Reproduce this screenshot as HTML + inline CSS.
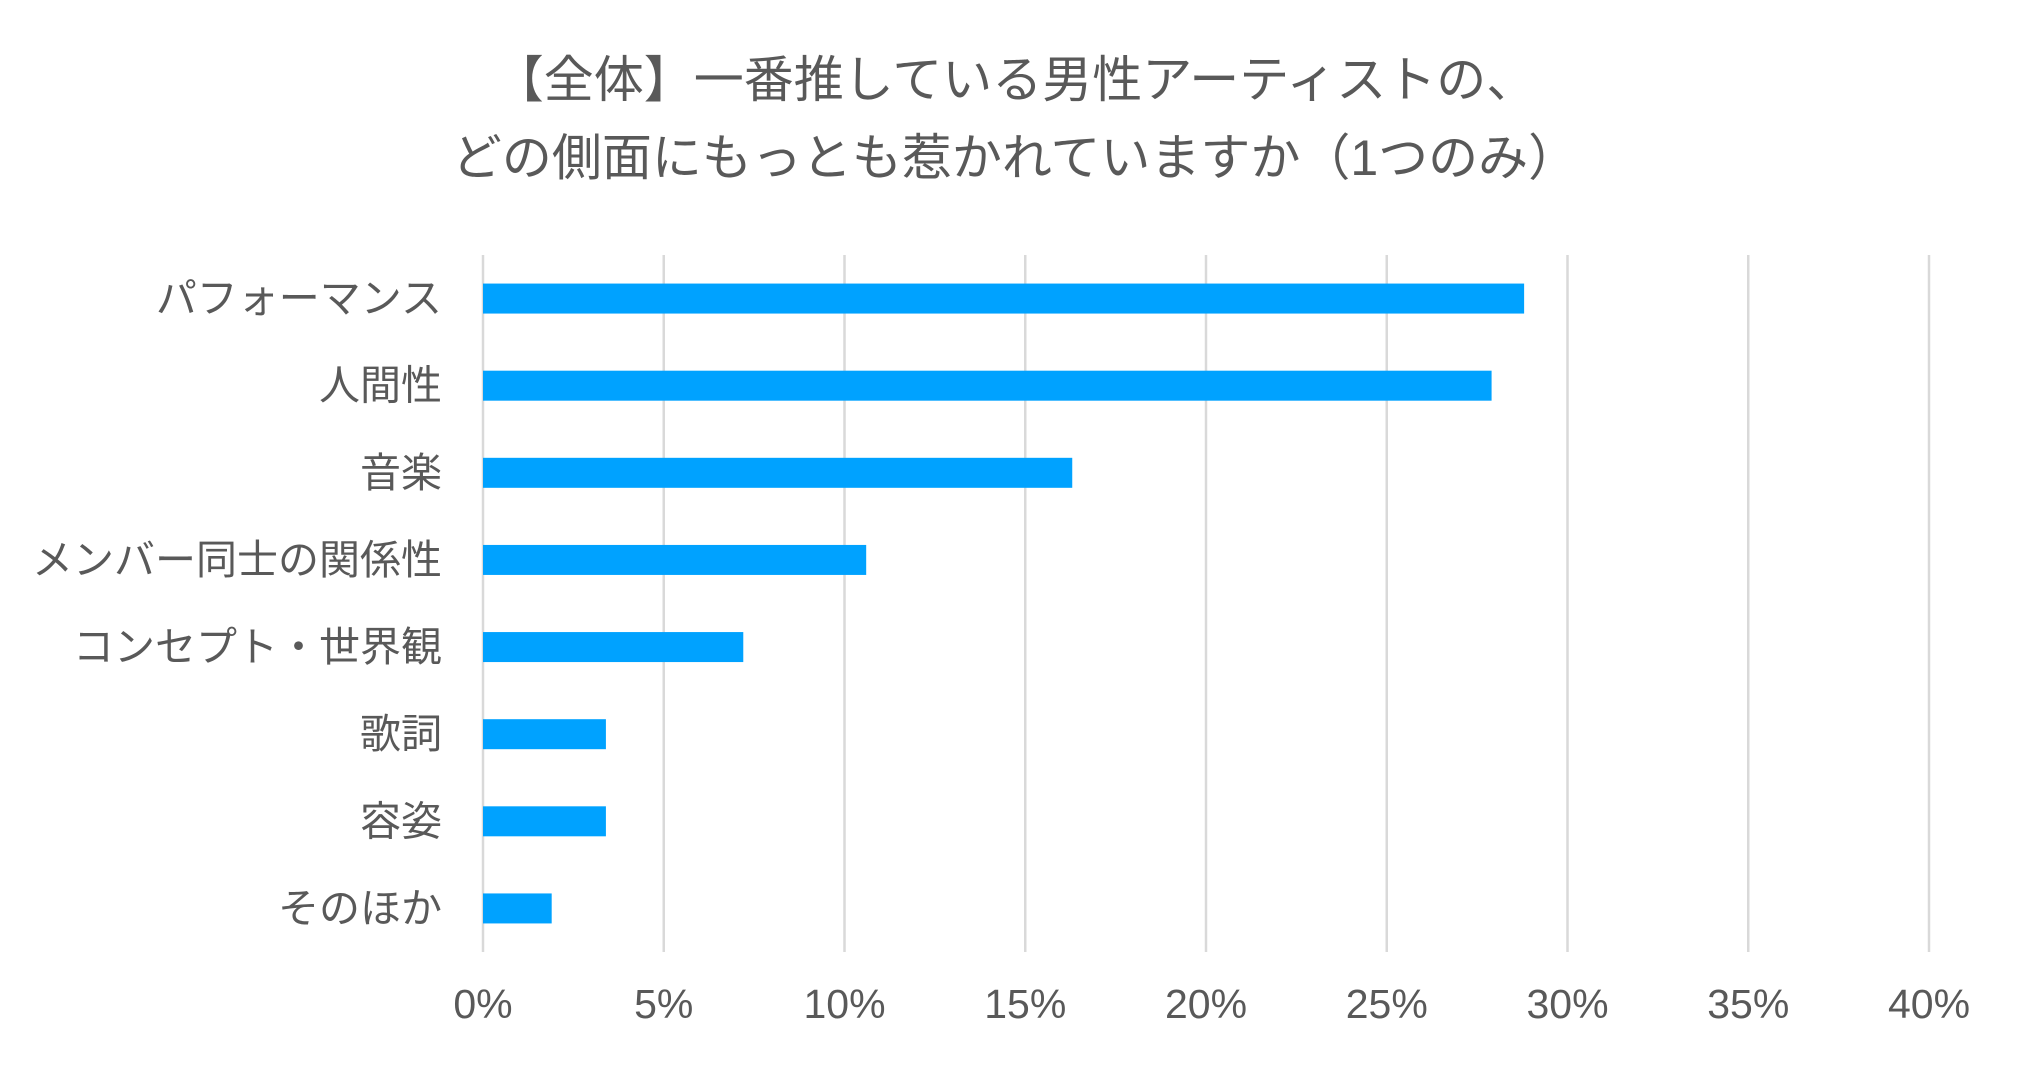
<!DOCTYPE html>
<html><head><meta charset="utf-8"><style>
html,body{margin:0;padding:0;background:#fff;}
svg text{font-family:"Liberation Sans","Noto Sans CJK JP",sans-serif;fill:#595959;}
</style></head><body>
<svg id="chart" width="2030" height="1063" viewBox="0 0 2030 1063" xmlns="http://www.w3.org/2000/svg">
<rect width="2030" height="1063" fill="#fff"/>
<text x="1015" y="97" font-size="50" text-anchor="middle">【全体】一番推している男性アーティストの、</text>
<text x="1015" y="175" font-size="50" text-anchor="middle">どの側面にもっとも惹かれていますか（1つのみ）</text>
<g id="grid"></g><g id="bars"></g><g id="ylabels"></g><g id="xlabels"></g>
</svg>
<script>
const categories=["パフォーマンス","人間性","音楽","メンバー同士の関係性","コンセプト・世界観","歌詞","容姿","そのほか"];
const values=[28.8,27.9,16.3,10.6,7.2,3.4,3.4,1.9];
const ticks=[0,5,10,15,20,25,30,35,40];
const tickLabels=["0%","5%","10%","15%","20%","25%","30%","35%","40%"];
const NS="http://www.w3.org/2000/svg";
const x0=483,x1=1929,yTop=255,yBottom=952;
const xScale=v=>x0+(v-0)/(40-0)*(x1-x0);
const band=(yBottom-yTop)/categories.length;
const yScale=i=>yTop+band*(i+0.5);
function mk(t,a,p){const e=document.createElementNS(NS,t);for(const k in a)e.setAttribute(k,a[k]);document.getElementById(p).appendChild(e);return e;}
ticks.forEach((t,i)=>{
 const l=mk("line",{x1:xScale(t),x2:xScale(t),y1:yTop,y2:yBottom,stroke:"#d9d9d9","stroke-width":2.5},"grid");
 
 
 const tx=mk("text",{x:xScale(t),y:1018,"font-size":41,"text-anchor":"middle"},"xlabels");
 tx.textContent=tickLabels[i];
 
 
});
categories.forEach((c,i)=>{
 const cy=yScale(i);
 const r=mk("rect",{x:xScale(0),y:cy-15,width:xScale(values[i])-xScale(0),height:30,fill:"#00A2FF"},"bars");
 
 
 const tx=mk("text",{x:442,y:cy+14,"font-size":41,"text-anchor":"end"},"ylabels");
 tx.textContent=c;
 
 
});
</script>
</body></html>
